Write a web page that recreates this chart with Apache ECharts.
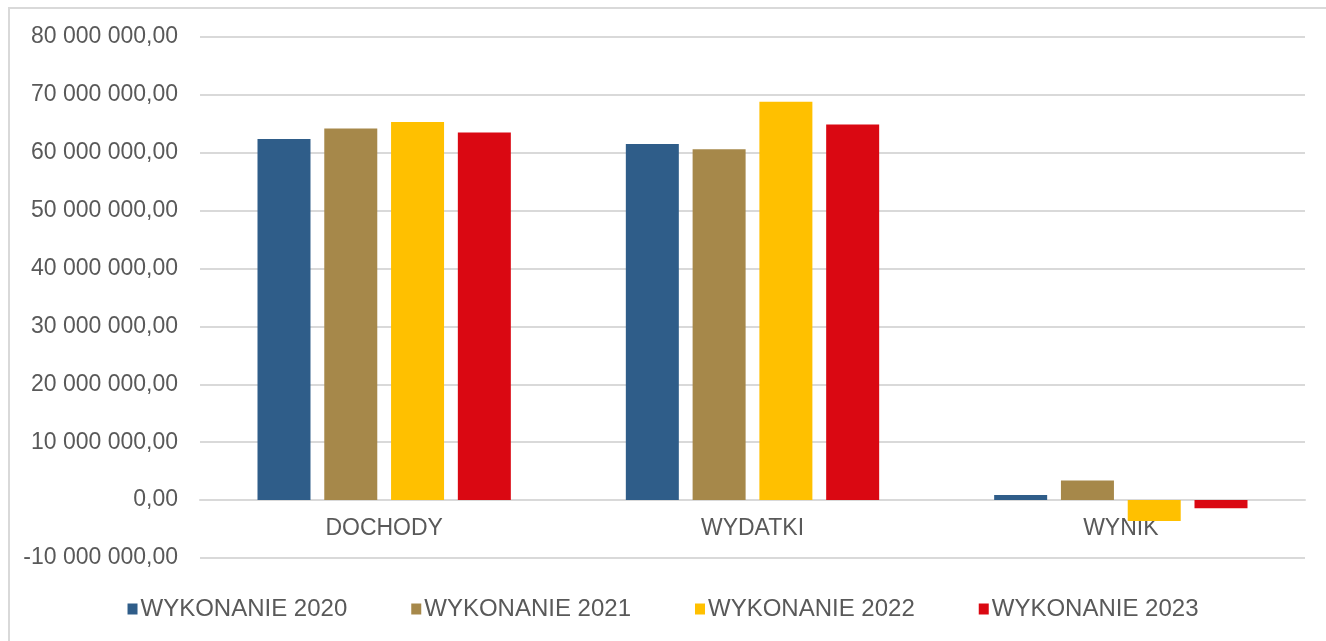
<!DOCTYPE html>
<html>
<head>
<meta charset="utf-8">
<script src="https://cdn.jsdelivr.net/npm/echarts@6/dist/echarts.min.js"></script>
<style>
  html, body { margin: 0; padding: 0; background: #fff; }
  #chart { width: 1326px; height: 641px; }
</style>
</head>
<body>
<div id="chart"></div>
<script>
// dane
var categories = ['DOCHODY', 'WYDATKI', 'WYNIK'];
var seriesNames = ['WYKONANIE 2020', 'WYKONANIE 2021', 'WYKONANIE 2022', 'WYKONANIE 2023'];
var wykonanie2020 = [62400000, 61500000, 900000];
var wykonanie2021 = [64200000, 60600000, 3400000];
var wykonanie2022 = [65300000, 68800000, -3600000];
var wykonanie2023 = [63500000, 64900000, -1400000];
var colors = ['#2F5D89', '#A6884A', '#FFC000', '#DA0812'];

function fmt(v) {
  var neg = v < 0;
  var s = Math.abs(v).toFixed(2).split('.');
  var intPart = s[0].replace(/\B(?=(\d{3})+(?!\d))/g, ' ');
  return (neg ? '-' : '') + intPart + ',' + s[1];
}

var allData = [wykonanie2020, wykonanie2021, wykonanie2022, wykonanie2023];
var series = seriesNames.map(function (name, i) {
  return {
    name: name,
    type: 'bar',
    data: allData[i],
    barWidth: 53,
    barGap: '26%',
    itemStyle: { color: colors[i] }
  };
});

var myChart = echarts.init(document.getElementById('chart'));
myChart.setOption({
  animation: false,
  color: colors,
  textStyle: { fontFamily: 'Liberation Sans, Arial, sans-serif' },
  graphic: [{
    type: 'rect',
    shape: { x: 9, y: 8, width: 1330, height: 700 },
    style: { fill: 'none', stroke: '#d9d9d9', lineWidth: 2 },
    silent: true
  }],
  grid: { left: 200, right: 21, top: 37, bottom: 83 },
  legend: {
    data: seriesNames,
    left: 'center',
    top: 592,
    itemWidth: 10,
    itemHeight: 11,
    itemGap: 64,
    icon: 'rect',
    textStyle: { color: '#595959', fontSize: 24, padding: [0, 0, 0, -2] }
  },
  xAxis: {
    type: 'category',
    data: categories,
    position: 'bottom',
    offset: -58,
    axisLine: { onZero: false, lineStyle: { color: '#d9d9d9', width: 2 } },
    axisTick: { show: false },
    axisLabel: { color: '#595959', fontSize: 23, margin: 17 }
  },
  yAxis: {
    type: 'value',
    min: -10000000,
    max: 80000000,
    interval: 10000000,
    axisLine: { show: false },
    axisTick: { show: false },
    splitLine: { lineStyle: { color: '#d9d9d9', width: 2 } },
    axisLabel: {
      color: '#595959',
      fontSize: 23,
      margin: 22,
      formatter: fmt
    }
  },
  series: series
});
</script>
</body>
</html>
